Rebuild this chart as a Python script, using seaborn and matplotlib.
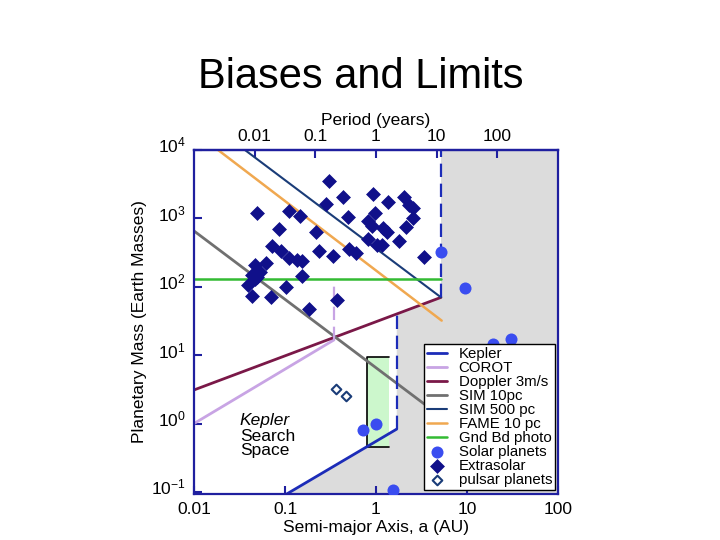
import numpy as np
import matplotlib
matplotlib.use("Agg")
import matplotlib.pyplot as plt
import matplotlib.transforms as mtransforms
from matplotlib.ticker import FixedLocator, NullLocator, LogFormatterMathtext
import seaborn as sns

# ---------------- data ----------------
solar_a = [5.2, 9.5, 19.2, 30.1, 1.0, 0.72, 1.52]
solar_m = [318, 95, 14.5, 17.1, 1.0, 0.815, 0.107]

exo_a = [0.049, 0.111, 0.146, 0.086, 0.219, 0.283, 0.305, 0.434, 0.93, 1.36,
         2.03, 2.31, 2.55, 2.55, 2.14, 0.492, 0.975, 0.817, 0.904, 1.19,
         1.32, 0.817, 1.03, 1.16, 1.79, 3.37, 0.237, 0.337, 0.505, 0.603,
         0.072, 0.090, 0.111, 0.136, 0.154, 0.0618, 0.0468, 0.0434, 0.0531, 0.0468,
         0.0492, 0.0392, 0.0434, 0.0702, 0.1026, 0.154, 0.184, 0.372]
exo_m = [1200, 1280, 1080, 700, 632, 1625, 3520, 2060, 2275, 1740,
         2060, 1570, 1420, 1010, 750, 1050, 1200, 916, 774, 724,
         632, 500, 408, 408, 468, 273, 334, 282, 357, 312,
         395, 334, 264, 247, 238, 223, 208, 149, 165, 130,
         139, 106, 73, 71, 99, 144, 47, 64]

pulsar_a = [0.363, 0.468]
pulsar_m = [3.2, 2.5]

kepler_a = [0.104, 1.69]
kepler_m = [0.093, 0.83]
kepler_step_a = [1.69, 1.69]
kepler_step_m = [0.83, 40.3]
kepler_top_a = [5.18, 5.18]
kepler_top_m = [70, 1e4]

corot_a = [0.01, 0.345]
corot_m = [1.0, 16.7]
corot_dash_a = [0.345, 0.345]
corot_dash_m = [16.7, 117]

doppler_a = [0.01, 5.18]
doppler_m = [3.1, 70]

sim10_a = [0.01, 10]
sim10_m = [655, 0.655]

sim500_a = [0.0363, 5.18]
sim500_m = [1e4, 70]

fame_a = [0.0184, 5.27]
fame_m = [1e4, 32]

gnd_a = [0.01, 5.18]
gnd_m = [130, 130]

hz_a = [0.796, 1.39]
hz_m = [0.455, 9.4]

# excluded (gray) region boundary
gray_a = [5.18, 100, 100, 0.104, 1.69, 1.69, 5.18]
gray_m = [1e4, 1e4, 0.05, 0.093, 0.83, 40.3, 70]

period_ticks = [0.01, 0.1, 1, 10, 100]
a_ticks = [0.01, 0.1, 1, 10, 100]
m_ticks = [0.1, 1, 10, 100, 1000, 10000]

# ---------------- style ----------------
sns.set_style("white")
plt.rcParams["font.family"] = ["Liberation Sans", "DejaVu Sans"]
plt.rcParams["mathtext.fontset"] = "custom"
plt.rcParams["mathtext.rm"] = "Liberation Sans"
plt.rcParams["mathtext.it"] = "Liberation Sans:italic"
plt.rcParams["text.color"] = "black"
plt.rcParams["axes.labelcolor"] = "black"
plt.rcParams["xtick.color"] = "black"
plt.rcParams["ytick.color"] = "black"

NAVY_SPINE = "#1f1f9f"
C_KEPLER = "#1c2cb8"
C_COROT = "#c8a4e4"
C_DOPPLER = "#7a1848"
C_SIM10 = "#707070"
C_SIM500 = "#1a3c78"
C_FAME = "#f0a850"
C_GND = "#33bb33"
C_SOLAR = "#3a4df0"
C_EXO = "#10108a"

FS = 12.5

fig = plt.figure(figsize=(7.2, 5.4), dpi=100)
ax = fig.add_axes([194 / 720, 1 - 494 / 540, 364 / 720, 344 / 540])
ax.set_xscale("log")
ax.set_yscale("log")
ax.set_xlim(0.01, 100)
ax.set_ylim(10 ** -1.03, 1e4)

# gray excluded region
ax.fill(gray_a, gray_m, color="#dcdcdc", lw=0, zorder=0)

# habitable zone box
ax.fill([hz_a[0], hz_a[1], hz_a[1], hz_a[0]], [hz_m[0], hz_m[0], hz_m[1], hz_m[1]],
        color="#ccf7cc", lw=0, zorder=1)
ax.plot([hz_a[1], hz_a[0], hz_a[0], hz_a[1]], [hz_m[0], hz_m[0], hz_m[1], hz_m[1]],
        color="black", lw=1.2, zorder=1.1)

lkw = dict(ax=ax, sort=False, estimator=None)
sns.lineplot(x=kepler_a, y=kepler_m, color=C_KEPLER, lw=2, label="Kepler", **lkw)
sns.lineplot(x=corot_a, y=corot_m, color=C_COROT, lw=2, label="COROT", **lkw)
sns.lineplot(x=doppler_a, y=doppler_m, color=C_DOPPLER, lw=2, label="Doppler 3m/s", **lkw)
sns.lineplot(x=sim10_a, y=sim10_m, color=C_SIM10, lw=2, label="SIM 10pc", **lkw)
sns.lineplot(x=sim500_a, y=sim500_m, color=C_SIM500, lw=1.5, label="SIM 500 pc", **lkw)
sns.lineplot(x=fame_a, y=fame_m, color=C_FAME, lw=1.8, label="FAME 10 pc", **lkw)
sns.lineplot(x=gnd_a, y=gnd_m, color=C_GND, lw=1.8, label="Gnd Bd photo", **lkw)

# dashed boundaries
for xa, ym, c in [(kepler_step_a, kepler_step_m, C_KEPLER),
                  (kepler_top_a, kepler_top_m, C_KEPLER),
                  (corot_dash_a, corot_dash_m, C_COROT)]:
    sns.lineplot(x=xa, y=ym, color=c, lw=1.6, **lkw)
    ax.lines[-1].set_dashes((6, 3))

sns.scatterplot(x=solar_a, y=solar_m, ax=ax, marker="o", s=75, color=C_SOLAR,
                edgecolor=C_SOLAR, linewidth=0, label="Solar planets", zorder=4)
sns.scatterplot(x=exo_a, y=exo_m, ax=ax, marker="D", s=50, color=C_EXO,
                edgecolor=C_EXO, linewidth=0.5, label="Extrasolar", zorder=4)
sns.scatterplot(x=pulsar_a, y=pulsar_m, ax=ax, marker="D", s=24, facecolor="white",
                edgecolor=C_SIM500, linewidth=1.5, label="pulsar planets", zorder=4)

# legend
handles, labels = ax.get_legend_handles_labels()
order = ["Kepler", "COROT", "Doppler 3m/s", "SIM 10pc", "SIM 500 pc", "FAME 10 pc",
         "Gnd Bd photo", "Solar planets", "Extrasolar", "pulsar planets"]
hmap = dict(zip(labels, handles))
leg = ax.legend([hmap[o] for o in order], order, loc="lower right",
                bbox_to_anchor=(0.992, 0.012), fontsize=10.8, labelspacing=0.0,
                handlelength=1.3, handletextpad=0.8, borderpad=0.2,
                frameon=True, fancybox=False, framealpha=1, edgecolor="black",
                borderaxespad=0)
leg.get_frame().set_linewidth(1.0)
leg.set_zorder(10)

# Kepler search space text
ax.text(0.126, 0.235, "Kepler", transform=ax.transAxes, fontsize=FS,
        style="italic", va="top", ha="left")
ax.text(0.126, 0.19, "Search\nSpace", transform=ax.transAxes, fontsize=FS,
        va="top", ha="left", linespacing=0.95)

# axes styling
for sp in ax.spines.values():
    sp.set_color(NAVY_SPINE)
    sp.set_linewidth(1.6)
ax.xaxis.set_major_locator(FixedLocator(a_ticks))
ax.xaxis.set_minor_locator(NullLocator())
ax.set_xticklabels(["0.01", "0.1", "1", "10", "100"])
ax.yaxis.set_major_locator(FixedLocator(m_ticks))
ax.yaxis.set_minor_locator(NullLocator())
ax.yaxis.set_major_formatter(LogFormatterMathtext())
ax.tick_params(axis="both", which="major", direction="in", length=6, width=1.5,
               color=NAVY_SPINE, labelsize=FS, labelcolor="black", top=False, right=False,
               bottom=True, left=True, pad=6)
offset = mtransforms.ScaledTranslation(0, 4 / 72, fig.dpi_scale_trans)
for lab in ax.get_yticklabels():
    lab.set_transform(lab.get_transform() + offset)

ax.set_xlabel("Semi-major Axis, a (AU)", fontsize=FS, labelpad=2)
ax.set_ylabel("Planetary Mass (Earth Masses)", fontsize=FS, labelpad=3)

sec = ax.secondary_xaxis("top", functions=(lambda a: np.power(np.clip(a, 1e-12, None), 1.5),
                                           lambda p: np.power(np.clip(p, 1e-12, None), 2 / 3)))
sec.set_xscale("log")
sec.xaxis.set_major_locator(FixedLocator(period_ticks))
sec.xaxis.set_minor_locator(NullLocator())
sec.set_xticklabels(["0.01", "0.1", "1", "10", "100"])
sec.tick_params(axis="x", direction="in", length=6, width=1.5, color=NAVY_SPINE,
                labelsize=FS, labelcolor="black", pad=4)
sec.spines["top"].set_color(NAVY_SPINE)
sec.spines["top"].set_linewidth(1.6)
sec.set_xlabel("Period (years)", fontsize=FS, labelpad=3, color="black")

fig.text(361 / 720, 1 - 88 / 540, "Biases and Limits", ha="center", va="baseline",
         fontsize=30, color="black")

fig.savefig("out.png", dpi=100)
